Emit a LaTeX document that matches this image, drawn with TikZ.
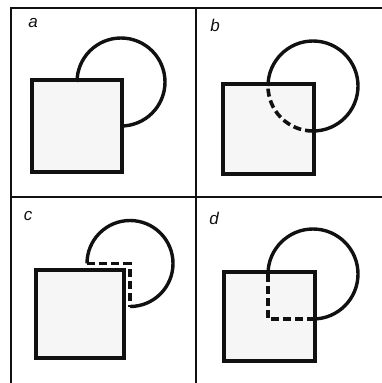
\documentclass[tikz,border=0pt]{standalone}
\usepackage{fontspec}
\setsansfont{Liberation Sans}
\usepackage{xcolor}
\definecolor{ink}{HTML}{111111}
\definecolor{paper}{HTML}{F6F6F6}

\begin{document}
\begin{tikzpicture}[
  x=1pt,y=-1pt,
  frame/.style={draw=ink,line width=1.4pt},
  sq/.style={draw=ink,fill=paper,line width=4.2pt,line join=miter},
  ring/.style={draw=ink,line width=3.4pt,line cap=butt},
  hidden/.style={draw=ink,line width=3.6pt,dash pattern=on 8pt off 4pt},
  tag/.style={font=\sffamily\itshape\fontsize{17}{19}\selectfont,text=ink,inner sep=0pt}
]
\useasboundingbox (0,0) rectangle (382,383);

% 0. Panel grid.
\draw[frame] (11,383)--(11,8)--(382,8);
\draw[frame] (196,8)--(196,383);
\draw[frame] (11,197)--(382,197);

% 1. Square drawn over the circle.
\draw[sq] (32,80) rectangle (122,172);
\draw[ring] (77,82) arc[start angle=180,end angle=450,radius=44];
\node[tag] (pa) at (33,23) {a};

% 2. Circle on top, inner arc dashed.
\draw[sq] (223,84) rectangle (314,174);
\draw[ring] (268,86) arc[start angle=180,end angle=450,radius=45];
\draw[hidden] (313,131) arc[start angle=90,end angle=180,radius=45];
\node[tag] (pb) at (215,25) {b};

% 3. Cut-away quarter beside the square.
\draw[sq] (36,270) rectangle (124,358);
\draw[ring] (87,263.5) arc[start angle=180,end angle=450,radius=43];
\draw[hidden] (87,263.5)--(130,263.5)--(130,306.5);
\node[tag] (pc) at (28,216) {c};

% 4. Quarter boundary inside the square.
\draw[sq] (224,272) rectangle (315,361);
\draw[ring] (268,274) arc[start angle=180,end angle=450,radius=45];
\draw[hidden] (268,274)--(268,319)--(313,319);
\node[tag] (pd) at (214,218) {d};

\end{tikzpicture}
\end{document}
